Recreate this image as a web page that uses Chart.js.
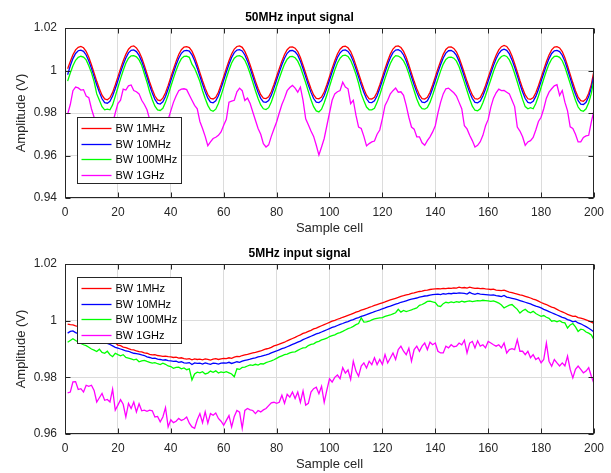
<!DOCTYPE html>
<html>
<head>
<meta charset="utf-8">
<script src="https://cdn.jsdelivr.net/npm/chart.js@4.4.1/dist/chart.umd.min.js"></script>
<style>
  html, body { margin: 0; padding: 0; background: #fff; }
  #wrap { position: relative; width: 611px; height: 473px; overflow: hidden; }
  canvas { position: absolute; left: 0; }
  #chart50 { top: 0; }
  #chart5 { top: 236px; }
</style>
</head>
<body>
<div id="wrap">
  <canvas id="chart50" width="611" height="236"></canvas>
  <canvas id="chart5" width="611" height="236"></canvas>
</div>
<script>
// Font & warna ala MATLAB
const FONT = "'Liberation Sans', Arial, Helvetica, sans-serif";
const SERIES_LABELS = ['BW 1MHz', 'BW 10MHz', 'BW 100MHz', 'BW 1GHz'];
const SERIES_COLORS = ['#ff0000', '#0000ff', '#00ff00', '#ff00ff'];

// Tick labels
const X_TICKS = [0, 20, 40, 60, 80, 100, 120, 140, 160, 180, 200];
const Y_TICKS_50 = [0.94, 0.96, 0.98, 1, 1.02];
const Y_TICKS_5 = [0.96, 0.98, 1, 1.02];

// ---- 50MHz input signal (sample cell 1..200) ----
const bw1MHz_50 = [
  1.0008, 1.0042, 1.0074, 1.0097, 1.0109, 1.0113, 1.0107, 1.0090, 1.0062, 1.0027, 0.9988, 0.9949, 0.9914, 0.9884, 0.9866, 0.9862, 0.9872, 0.9897, 0.9932, 0.9970,
  1.0009, 1.0045, 1.0076, 1.0100, 1.0113, 1.0116, 1.0106, 1.0088, 1.0060, 1.0024, 0.9985, 0.9946, 0.9911, 0.9880, 0.9862, 0.9858, 0.9870, 0.9895, 0.9930, 0.9968,
  1.0006, 1.0043, 1.0075, 1.0098, 1.0110, 1.0112, 1.0108, 1.0091, 1.0063, 1.0028, 0.9990, 0.9952, 0.9917, 0.9887, 0.9869, 0.9866, 0.9874, 0.9898, 0.9933, 0.9971,
  1.0010, 1.0046, 1.0078, 1.0101, 1.0113, 1.0116, 1.0109, 1.0090, 1.0061, 1.0026, 0.9988, 0.9950, 0.9915, 0.9886, 0.9870, 0.9868, 0.9876, 0.9900, 0.9934, 0.9972,
  1.0008, 1.0044, 1.0075, 1.0098, 1.0110, 1.0111, 1.0105, 1.0089, 1.0061, 1.0025, 0.9987, 0.9949, 0.9914, 0.9885, 0.9869, 0.9867, 0.9875, 0.9899, 0.9933, 0.9971,
  1.0010, 1.0046, 1.0078, 1.0100, 1.0112, 1.0114, 1.0107, 1.0089, 1.0060, 1.0024, 0.9986, 0.9948, 0.9913, 0.9884, 0.9867, 0.9866, 0.9874, 0.9898, 0.9932, 0.9970,
  1.0009, 1.0045, 1.0077, 1.0101, 1.0114, 1.0116, 1.0108, 1.0090, 1.0062, 1.0026, 0.9987, 0.9949, 0.9914, 0.9885, 0.9868, 0.9866, 0.9874, 0.9898, 0.9932, 0.9970,
  1.0008, 1.0044, 1.0076, 1.0099, 1.0110, 1.0111, 1.0104, 1.0088, 1.0060, 1.0025, 0.9987, 0.9949, 0.9914, 0.9885, 0.9867, 0.9865, 0.9873, 0.9897, 0.9930, 0.9967,
  1.0004, 1.0040, 1.0072, 1.0097, 1.0112, 1.0118, 1.0113, 1.0096, 1.0068, 1.0032, 0.9993, 0.9953, 0.9916, 0.9885, 0.9867, 0.9864, 0.9872, 0.9895, 0.9928, 0.9966,
  1.0004, 1.0041, 1.0073, 1.0097, 1.0110, 1.0112, 1.0106, 1.0089, 1.0060, 1.0022, 0.9982, 0.9942, 0.9905, 0.9875, 0.9858, 0.9855, 0.9866, 0.9893, 0.9935, 1.0000
];
const bw10MHz_50 = [
  0.9980, 1.0022, 1.0056, 1.0080, 1.0093, 1.0096, 1.0090, 1.0073, 1.0045, 1.0010, 0.9971, 0.9932, 0.9897, 0.9867, 0.9849, 0.9846, 0.9855, 0.9880, 0.9914, 0.9952,
  0.9991, 1.0027, 1.0059, 1.0083, 1.0095, 1.0097, 1.0089, 1.0071, 1.0043, 1.0007, 0.9968, 0.9929, 0.9894, 0.9864, 0.9845, 0.9842, 0.9853, 0.9878, 0.9913, 0.9951,
  0.9989, 1.0026, 1.0058, 1.0081, 1.0093, 1.0095, 1.0091, 1.0074, 1.0046, 1.0011, 0.9973, 0.9935, 0.9900, 0.9870, 0.9851, 0.9848, 0.9857, 0.9881, 0.9916, 0.9954,
  0.9993, 1.0029, 1.0061, 1.0084, 1.0096, 1.0098, 1.0092, 1.0073, 1.0044, 1.0009, 0.9971, 0.9933, 0.9898, 0.9869, 0.9852, 0.9850, 0.9859, 0.9883, 0.9917, 0.9955,
  0.9991, 1.0027, 1.0058, 1.0081, 1.0093, 1.0094, 1.0088, 1.0072, 1.0044, 1.0008, 0.9970, 0.9932, 0.9897, 0.9868, 0.9851, 0.9849, 0.9858, 0.9882, 0.9916, 0.9954,
  0.9993, 1.0029, 1.0061, 1.0083, 1.0095, 1.0097, 1.0090, 1.0072, 1.0043, 1.0007, 0.9969, 0.9931, 0.9896, 0.9867, 0.9850, 0.9849, 0.9857, 0.9881, 0.9915, 0.9953,
  0.9992, 1.0028, 1.0060, 1.0084, 1.0096, 1.0098, 1.0091, 1.0073, 1.0045, 1.0009, 0.9970, 0.9932, 0.9897, 0.9868, 0.9851, 0.9849, 0.9857, 0.9881, 0.9915, 0.9953,
  0.9991, 1.0027, 1.0059, 1.0082, 1.0093, 1.0094, 1.0087, 1.0071, 1.0043, 1.0008, 0.9970, 0.9932, 0.9897, 0.9868, 0.9850, 0.9848, 0.9856, 0.9880, 0.9913, 0.9950,
  0.9987, 1.0023, 1.0055, 1.0080, 1.0095, 1.0100, 1.0095, 1.0078, 1.0050, 1.0015, 0.9976, 0.9936, 0.9899, 0.9868, 0.9850, 0.9847, 0.9855, 0.9878, 0.9911, 0.9949,
  0.9987, 1.0024, 1.0056, 1.0080, 1.0093, 1.0095, 1.0089, 1.0072, 1.0043, 1.0005, 0.9965, 0.9925, 0.9888, 0.9858, 0.9842, 0.9840, 0.9850, 0.9877, 0.9918, 0.9980
];
const bw100MHz_50 = [
  0.9950, 0.9988, 1.0022, 1.0048, 1.0062, 1.0067, 1.0063, 1.0050, 1.0022, 0.9990, 0.9948, 0.9890, 0.9860, 0.9830, 0.9815, 0.9818, 0.9815, 0.9838, 0.9878, 0.9920,
  0.9962, 1.0000, 1.0034, 1.0058, 1.0069, 1.0070, 1.0064, 1.0050, 1.0025, 0.9985, 0.9945, 0.9900, 0.9862, 0.9832, 0.9815, 0.9812, 0.9822, 0.9850, 0.9885, 0.9925,
  0.9963, 1.0000, 1.0032, 1.0056, 1.0066, 1.0068, 1.0062, 1.0030, 1.0010, 0.9980, 0.9948, 0.9905, 0.9868, 0.9836, 0.9814, 0.9808, 0.9818, 0.9845, 0.9882, 0.9922,
  0.9965, 1.0002, 1.0035, 1.0058, 1.0068, 1.0070, 1.0064, 1.0048, 1.0020, 0.9985, 0.9945, 0.9905, 0.9868, 0.9838, 0.9820, 0.9816, 0.9825, 0.9852, 0.9888, 0.9926,
  0.9962, 0.9998, 1.0030, 1.0053, 1.0065, 1.0066, 1.0060, 1.0044, 1.0016, 0.9980, 0.9942, 0.9902, 0.9862, 0.9830, 0.9810, 0.9805, 0.9818, 0.9848, 0.9885, 0.9924,
  0.9965, 1.0002, 1.0035, 1.0058, 1.0070, 1.0072, 1.0066, 1.0048, 1.0018, 0.9982, 0.9940, 0.9890, 0.9858, 0.9828, 0.9815, 0.9815, 0.9822, 0.9850, 0.9885, 0.9924,
  0.9963, 1.0000, 1.0033, 1.0057, 1.0070, 1.0068, 1.0060, 1.0045, 1.0020, 0.9984, 0.9944, 0.9905, 0.9866, 0.9836, 0.9820, 0.9818, 0.9826, 0.9850, 0.9884, 0.9922,
  0.9960, 0.9997, 1.0030, 1.0052, 1.0062, 1.0063, 1.0058, 1.0044, 1.0018, 0.9982, 0.9944, 0.9905, 0.9866, 0.9832, 0.9813, 0.9810, 0.9820, 0.9848, 0.9882, 0.9920,
  0.9958, 0.9995, 1.0028, 1.0052, 1.0066, 1.0071, 1.0066, 1.0050, 1.0022, 0.9986, 0.9946, 0.9904, 0.9864, 0.9830, 0.9820, 0.9825, 0.9820, 0.9845, 0.9880, 0.9920,
  0.9960, 0.9998, 1.0030, 1.0054, 1.0066, 1.0068, 1.0062, 1.0046, 1.0016, 0.9978, 0.9938, 0.9898, 0.9860, 0.9828, 0.9812, 0.9808, 0.9820, 0.9848, 0.9892, 0.9960
];
const bw1GHz_50 = [
  0.9795, 0.9840, 0.9905, 0.9922, 0.9918, 0.9908, 0.9910, 0.9880, 0.9872, 0.9820, 0.9780, 0.9740, 0.9700, 0.9660, 0.9650, 0.9665, 0.9700, 0.9750, 0.9800, 0.9844,
  0.9860, 0.9912, 0.9908, 0.9928, 0.9932, 0.9906, 0.9900, 0.9890, 0.9860, 0.9840, 0.9815, 0.9770, 0.9730, 0.9690, 0.9650, 0.9660, 0.9680, 0.9720, 0.9770, 0.9810,
  0.9850, 0.9880, 0.9905, 0.9912, 0.9914, 0.9910, 0.9885, 0.9860, 0.9836, 0.9820, 0.9760, 0.9727, 0.9690, 0.9646, 0.9664, 0.9680, 0.9686, 0.9695, 0.9711, 0.9742,
  0.9770, 0.9851, 0.9856, 0.9860, 0.9900, 0.9917, 0.9905, 0.9859, 0.9870, 0.9845, 0.9805, 0.9766, 0.9727, 0.9700, 0.9656, 0.9640, 0.9650, 0.9690, 0.9725, 0.9758,
  0.9800, 0.9840, 0.9870, 0.9905, 0.9920, 0.9930, 0.9917, 0.9898, 0.9922, 0.9859, 0.9773, 0.9745, 0.9715, 0.9690, 0.9648, 0.9602, 0.9640, 0.9680, 0.9740, 0.9800,
  0.9860, 0.9890, 0.9900, 0.9906, 0.9945, 0.9922, 0.9914, 0.9844, 0.9860, 0.9790, 0.9734, 0.9727, 0.9690, 0.9645, 0.9656, 0.9664, 0.9668, 0.9700, 0.9720, 0.9773,
  0.9836, 0.9860, 0.9890, 0.9905, 0.9917, 0.9898, 0.9900, 0.9883, 0.9836, 0.9780, 0.9734, 0.9724, 0.9688, 0.9688, 0.9660, 0.9648, 0.9670, 0.9688, 0.9711, 0.9740,
  0.9800, 0.9850, 0.9890, 0.9914, 0.9917, 0.9906, 0.9895, 0.9880, 0.9850, 0.9820, 0.9740, 0.9725, 0.9695, 0.9670, 0.9640, 0.9648, 0.9665, 0.9695, 0.9740, 0.9770,
  0.9828, 0.9870, 0.9895, 0.9912, 0.9905, 0.9906, 0.9898, 0.9890, 0.9860, 0.9830, 0.9734, 0.9715, 0.9688, 0.9648, 0.9664, 0.9670, 0.9685, 0.9720, 0.9760, 0.9780,
  0.9820, 0.9870, 0.9898, 0.9914, 0.9928, 0.9933, 0.9883, 0.9906, 0.9851, 0.9810, 0.9735, 0.9727, 0.9700, 0.9664, 0.9664, 0.9685, 0.9692, 0.9695, 0.9758, 0.9812
];

// ---- 5MHz input signal (sample cell 1..200) ----
const bw1MHz_5 = [
  0.9988, 0.9986, 0.9985, 0.9982, 0.9980, 0.9978, 0.9976, 0.9972, 0.9970, 0.9966,
  0.9963, 0.9958, 0.9955, 0.9950, 0.9946, 0.9940, 0.9935, 0.9929, 0.9922, 0.9914,
  0.9912, 0.9907, 0.9905, 0.9901, 0.9898, 0.9897, 0.9893, 0.9891, 0.9890, 0.9886,
  0.9885, 0.9881, 0.9879, 0.9880, 0.9877, 0.9876, 0.9874, 0.9875, 0.9873, 0.9872,
  0.9870, 0.9871, 0.9868, 0.9869, 0.9866, 0.9864, 0.9866, 0.9862, 0.9865, 0.9863,
  0.9864, 0.9862, 0.9865, 0.9863, 0.9861, 0.9864, 0.9866, 0.9863, 0.9865, 0.9867,
  0.9866, 0.9869, 0.9867, 0.9871, 0.9874, 0.9873, 0.9877, 0.9879, 0.9881, 0.9884,
  0.9886, 0.9888, 0.9891, 0.9893, 0.9897, 0.9900, 0.9902, 0.9906, 0.9911, 0.9914,
  0.9917, 0.9921, 0.9924, 0.9929, 0.9933, 0.9937, 0.9941, 0.9946, 0.9950, 0.9955,
  0.9958, 0.9962, 0.9966, 0.9971, 0.9974, 0.9978, 0.9982, 0.9986, 0.9990, 0.9994,
  0.9998, 1.0001, 1.0005, 1.0008, 1.0012, 1.0015, 1.0019, 1.0022, 1.0026, 1.0030,
  1.0033, 1.0037, 1.0040, 1.0043, 1.0047, 1.0050, 1.0054, 1.0057, 1.0060, 1.0063,
  1.0066, 1.0070, 1.0073, 1.0076, 1.0079, 1.0082, 1.0086, 1.0088, 1.0091, 1.0093,
  1.0096, 1.0098, 1.0101, 1.0103, 1.0104, 1.0107, 1.0108, 1.0110, 1.0111, 1.0112,
  1.0113, 1.0112, 1.0114, 1.0113, 1.0115, 1.0114, 1.0116, 1.0115, 1.0118, 1.0116,
  1.0117, 1.0115, 1.0118, 1.0116, 1.0114, 1.0115, 1.0113, 1.0114, 1.0112, 1.0111,
  1.0110, 1.0111, 1.0108, 1.0107, 1.0106, 1.0108, 1.0104, 1.0101, 1.0099, 1.0096,
  1.0094, 1.0091, 1.0089, 1.0086, 1.0083, 1.0080, 1.0076, 1.0073, 1.0069, 1.0064,
  1.0060, 1.0057, 1.0052, 1.0048, 1.0045, 1.0040, 1.0035, 1.0031, 1.0027, 1.0022,
  1.0019, 1.0015, 1.0016, 1.0011, 1.0009, 1.0006, 1.0003, 0.9999, 0.9995, 0.9990
];
const bw10MHz_5 = [
  0.9956, 0.9962, 0.9964, 0.9958, 0.9954, 0.9952, 0.9950, 0.9948, 0.9945, 0.9942,
  0.9940, 0.9936, 0.9932, 0.9930, 0.9926, 0.9920, 0.9916, 0.9911, 0.9906, 0.9903,
  0.9900, 0.9897, 0.9893, 0.9892, 0.9888, 0.9885, 0.9884, 0.9882, 0.9879, 0.9877,
  0.9872, 0.9870, 0.9867, 0.9868, 0.9864, 0.9863, 0.9861, 0.9862, 0.9859, 0.9858,
  0.9856, 0.9857, 0.9853, 0.9855, 0.9851, 0.9850, 0.9852, 0.9845, 0.9851, 0.9849,
  0.9850, 0.9847, 0.9851, 0.9848, 0.9846, 0.9850, 0.9849, 0.9847, 0.9850, 0.9851,
  0.9850, 0.9853, 0.9849, 0.9852, 0.9855, 0.9853, 0.9857, 0.9860, 0.9862, 0.9864,
  0.9867, 0.9869, 0.9872, 0.9874, 0.9877, 0.9879, 0.9882, 0.9886, 0.9890, 0.9893,
  0.9897, 0.9901, 0.9904, 0.9908, 0.9912, 0.9916, 0.9920, 0.9924, 0.9928, 0.9933,
  0.9937, 0.9941, 0.9945, 0.9949, 0.9953, 0.9956, 0.9960, 0.9964, 0.9968, 0.9972,
  0.9976, 0.9979, 0.9983, 0.9987, 0.9990, 0.9994, 0.9997, 1.0001, 1.0004, 1.0008,
  1.0011, 1.0015, 1.0018, 1.0021, 1.0025, 1.0028, 1.0032, 1.0035, 1.0038, 1.0042,
  1.0045, 1.0049, 1.0051, 1.0055, 1.0058, 1.0061, 1.0065, 1.0067, 1.0070, 1.0073,
  1.0076, 1.0078, 1.0080, 1.0083, 1.0085, 1.0087, 1.0088, 1.0090, 1.0092, 1.0093,
  1.0094, 1.0092, 1.0095, 1.0094, 1.0096, 1.0095, 1.0097, 1.0096, 1.0098, 1.0097,
  1.0096, 1.0094, 1.0100, 1.0095, 1.0093, 1.0096, 1.0094, 1.0093, 1.0092, 1.0091,
  1.0090, 1.0091, 1.0088, 1.0087, 1.0085, 1.0089, 1.0083, 1.0081, 1.0079, 1.0077,
  1.0074, 1.0071, 1.0068, 1.0065, 1.0062, 1.0059, 1.0055, 1.0051, 1.0049, 1.0045,
  1.0040, 1.0036, 1.0032, 1.0028, 1.0024, 1.0020, 1.0016, 1.0012, 1.0009, 1.0004,
  1.0001, 0.9996, 0.9998, 0.9992, 0.9989, 0.9984, 0.9979, 0.9973, 0.9967, 0.9960
];
const bw100MHz_5 = [
  0.9924, 0.9930, 0.9936, 0.9930, 0.9925, 0.9920, 0.9915, 0.9912, 0.9906, 0.9900,
  0.9896, 0.9891, 0.9899, 0.9888, 0.9885, 0.9892, 0.9880, 0.9873, 0.9885, 0.9880,
  0.9876, 0.9880, 0.9870, 0.9868, 0.9865, 0.9862, 0.9864, 0.9855, 0.9858, 0.9860,
  0.9856, 0.9853, 0.9850, 0.9852, 0.9848, 0.9845, 0.9850, 0.9846, 0.9840, 0.9838,
  0.9832, 0.9835, 0.9836, 0.9830, 0.9833, 0.9827, 0.9830, 0.9791, 0.9812, 0.9818,
  0.9816, 0.9820, 0.9812, 0.9815, 0.9822, 0.9818, 0.9823, 0.9815, 0.9819, 0.9817,
  0.9820, 0.9816, 0.9812, 0.9802, 0.9830, 0.9828, 0.9835, 0.9836, 0.9840, 0.9844,
  0.9842, 0.9846, 0.9843, 0.9848, 0.9847, 0.9852, 0.9855, 0.9858, 0.9862, 0.9867,
  0.9872, 0.9876, 0.9880, 0.9882, 0.9886, 0.9889, 0.9890, 0.9895, 0.9900, 0.9904,
  0.9905, 0.9912, 0.9916, 0.9918, 0.9924, 0.9927, 0.9932, 0.9935, 0.9938, 0.9944,
  0.9947, 0.9950, 0.9955, 0.9958, 0.9962, 0.9967, 0.9972, 0.9975, 0.9980, 0.9986,
  0.9990, 1.0010, 0.9995, 0.9996, 0.9998, 1.0003, 1.0006, 1.0008, 1.0010, 1.0011,
  1.0015, 1.0018, 1.0020, 1.0024, 1.0028, 1.0040, 1.0030, 1.0036, 1.0032, 1.0035,
  1.0038, 1.0042, 1.0045, 1.0054, 1.0057, 1.0062, 1.0068, 1.0069, 1.0066, 1.0064,
  1.0052, 1.0050, 1.0060, 1.0065, 1.0063, 1.0066, 1.0064, 1.0067, 1.0065, 1.0069,
  1.0066, 1.0068, 1.0070, 1.0067, 1.0069, 1.0071, 1.0070, 1.0072, 1.0071, 1.0070,
  1.0068, 1.0070, 1.0066, 1.0062, 1.0055, 1.0045, 1.0050, 1.0055, 1.0057, 1.0048,
  1.0040, 1.0027, 1.0035, 1.0040, 1.0032, 1.0028, 1.0033, 1.0025, 1.0020, 1.0015,
  1.0018, 1.0012, 1.0008, 0.9998, 1.0000, 0.9996, 1.0000, 0.9994, 0.9992, 0.9974,
  0.9985, 0.9990, 0.9978, 0.9962, 0.9970, 0.9968, 0.9960, 0.9956, 0.9950, 0.9933
];
const bw1GHz_5 = [
  0.9745, 0.9748, 0.9784, 0.9785, 0.9757, 0.9760, 0.9748, 0.9772, 0.9768, 0.9772,
  0.9754, 0.9713, 0.9728, 0.9743, 0.9719, 0.9722, 0.9713, 0.9758, 0.9684, 0.9702,
  0.9721, 0.9705, 0.9660, 0.9708, 0.9690, 0.9713, 0.9678, 0.9707, 0.9682, 0.9684,
  0.9680, 0.9684, 0.9682, 0.9660, 0.9662, 0.9643, 0.9660, 0.9693, 0.9625, 0.9650,
  0.9640, 0.9645, 0.9655, 0.9648, 0.9652, 0.9660, 0.9638, 0.9625, 0.9620, 0.9650,
  0.9672, 0.9640, 0.9678, 0.9638, 0.9672, 0.9666, 0.9674, 0.9655, 0.9645, 0.9631,
  0.9648, 0.9665, 0.9625, 0.9662, 0.9683, 0.9677, 0.9620, 0.9683, 0.9690, 0.9685,
  0.9683, 0.9672, 0.9683, 0.9678, 0.9685, 0.9690, 0.9700, 0.9710, 0.9712, 0.9708,
  0.9712, 0.9737, 0.9708, 0.9740, 0.9730, 0.9748, 0.9725, 0.9748, 0.9712, 0.9752,
  0.9702, 0.9708, 0.9748, 0.9760, 0.9765, 0.9742, 0.9768, 0.9712, 0.9755, 0.9795,
  0.9783, 0.9800, 0.9808, 0.9795, 0.9834, 0.9815, 0.9826, 0.9793, 0.9857, 0.9822,
  0.9804, 0.9840, 0.9851, 0.9833, 0.9857, 0.9845, 0.9869, 0.9845, 0.9863, 0.9845,
  0.9880, 0.9851, 0.9868, 0.9886, 0.9863, 0.9898, 0.9910, 0.9892, 0.9880, 0.9903,
  0.9857, 0.9898, 0.9910, 0.9892, 0.9910, 0.9921, 0.9898, 0.9924, 0.9915, 0.9921,
  0.9892, 0.9886, 0.9886, 0.9910, 0.9904, 0.9915, 0.9908, 0.9910, 0.9921, 0.9915,
  0.9931, 0.9886, 0.9921, 0.9927, 0.9904, 0.9929, 0.9910, 0.9915, 0.9904, 0.9927,
  0.9921, 0.9915, 0.9910, 0.9915, 0.9904, 0.9921, 0.9886, 0.9898, 0.9901, 0.9898,
  0.9933, 0.9892, 0.9892, 0.9880, 0.9892, 0.9869, 0.9880, 0.9863, 0.9869, 0.9851,
  0.9863, 0.9921, 0.9857, 0.9839, 0.9863, 0.9851, 0.9840, 0.9851, 0.9840, 0.9875,
  0.9828, 0.9798, 0.9828, 0.9840, 0.9828, 0.9816, 0.9822, 0.9834, 0.9804, 0.9778
];

// Plugin: kotak sumbu, tick ke dalam, dan legend di dalam area plot (gaya MATLAB)
const matlabFrame = {
  id: 'matlabFrame',
  afterDatasetsDraw(chart, args, opts) {
    const { ctx, chartArea: a, scales } = chart;
    const L = Math.round(a.left) + 0.5, T = Math.round(a.top) + 0.5;
    const R = Math.round(a.right) - 0.5, B = Math.round(a.bottom) - 0.5;
    ctx.save();
    ctx.strokeStyle = '#262626';
    ctx.lineWidth = 1;
    ctx.beginPath();
    scales.x.ticks.forEach(t => {
      const px = Math.round(scales.x.getPixelForValue(t.value)) + 0.5;
      ctx.moveTo(px, B); ctx.lineTo(px, B - 5);
      ctx.moveTo(px, T); ctx.lineTo(px, T + 5);
    });
    scales.y.ticks.forEach(t => {
      const py = Math.round(scales.y.getPixelForValue(t.value)) + 0.5;
      ctx.moveTo(L, py); ctx.lineTo(L + 5, py);
      ctx.moveTo(R, py); ctx.lineTo(R - 5, py);
    });
    ctx.stroke();
    ctx.strokeRect(L, T, R - L, B - T);

    // legend
    const lx = Math.round(a.left + opts.x) + 0.5;
    const ly = Math.round(a.top + opts.y) + 0.5;
    const w = 104, h = 66;
    ctx.fillStyle = '#ffffff';
    ctx.fillRect(lx, ly, w, h);
    ctx.strokeStyle = '#262626';
    ctx.strokeRect(lx, ly, w, h);
    ctx.font = '11px ' + FONT;
    ctx.textBaseline = 'middle';
    ctx.textAlign = 'left';
    chart.data.datasets.forEach((ds, i) => {
      const yy = Math.round(ly + 10.5 + i * 15.5) + 0.5;
      ctx.strokeStyle = ds.borderColor;
      ctx.lineWidth = ds.borderWidth;
      ctx.beginPath();
      ctx.moveTo(lx + 4, yy);
      ctx.lineTo(lx + 34, yy);
      ctx.stroke();
      ctx.fillStyle = '#000000';
      ctx.fillText(ds.label, lx + 38, yy + 0.5);
    });
    ctx.restore();
  }
};

function makeDatasets(seriesList) {
  return seriesList.map((values, i) => ({
    label: SERIES_LABELS[i],
    data: values.map((v, k) => ({ x: k + 1, y: v })),
    borderColor: SERIES_COLORS[i],
    backgroundColor: SERIES_COLORS[i],
    borderWidth: 1.3,
    pointRadius: 0,
    tension: 0,
    order: seriesList.length - i
  }));
}

function buildChart(canvasId, title, seriesList, yTicks, legendPos) {
  const ctx = document.getElementById(canvasId).getContext('2d');
  return new Chart(ctx, {
    type: 'line',
    data: { datasets: makeDatasets(seriesList) },
    plugins: [matlabFrame],
    options: {
      responsive: false,
      animation: false,
      events: [],
      layout: { padding: { left: 0, right: 12, top: 0, bottom: 0 } },
      plugins: {
        legend: { display: false },
        tooltip: { enabled: false },
        title: {
          display: true,
          text: title,
          color: '#000000',
          font: { family: FONT, size: 12, weight: 'bold' },
          padding: { top: 10.5, bottom: 3.1 }
        },
        matlabFrame: legendPos
      },
      scales: {
        x: {
          type: 'linear',
          min: X_TICKS[0],
          max: X_TICKS[X_TICKS.length - 1],
          afterBuildTicks: axis => { axis.ticks = X_TICKS.map(v => ({ value: v })); },
          afterFit: axis => { axis.height = 38; },
          grid: { color: '#dcdcdc', lineWidth: 1, drawTicks: false },
          border: { display: false },
          ticks: {
            color: '#262626',
            font: { family: FONT, size: 12 },
            padding: 7,
            maxRotation: 0,
            autoSkip: false
          },
          title: {
            display: true,
            text: 'Sample cell',
            color: '#262626',
            font: { family: FONT, size: 13 },
            padding: { top: 0, bottom: 0 }
          }
        },
        y: {
          type: 'linear',
          min: yTicks[0],
          max: yTicks[yTicks.length - 1],
          afterBuildTicks: axis => { axis.ticks = yTicks.map(v => ({ value: v })); },
          afterFit: axis => { axis.width = 65; },
          grid: { color: '#dcdcdc', lineWidth: 1, drawTicks: false },
          border: { display: false },
          ticks: {
            color: '#262626',
            font: { family: FONT, size: 12 },
            padding: 8,
            callback: v => String(Math.round(v * 100) / 100)
          },
          title: {
            display: true,
            text: 'Amplitude (V)',
            color: '#262626',
            font: { family: FONT, size: 13 },
            padding: { top: 14, bottom: 0 }
          }
        }
      }
    }
  });
}

buildChart('chart50', '50MHz input signal',
  [bw1MHz_50, bw10MHz_50, bw100MHz_50, bw1GHz_50], Y_TICKS_50, { x: 12, y: 89 });
buildChart('chart5', '5MHz input signal',
  [bw1MHz_5, bw10MHz_5, bw100MHz_5, bw1GHz_5], Y_TICKS_5, { x: 12, y: 13 });
</script>
</body>
</html>
